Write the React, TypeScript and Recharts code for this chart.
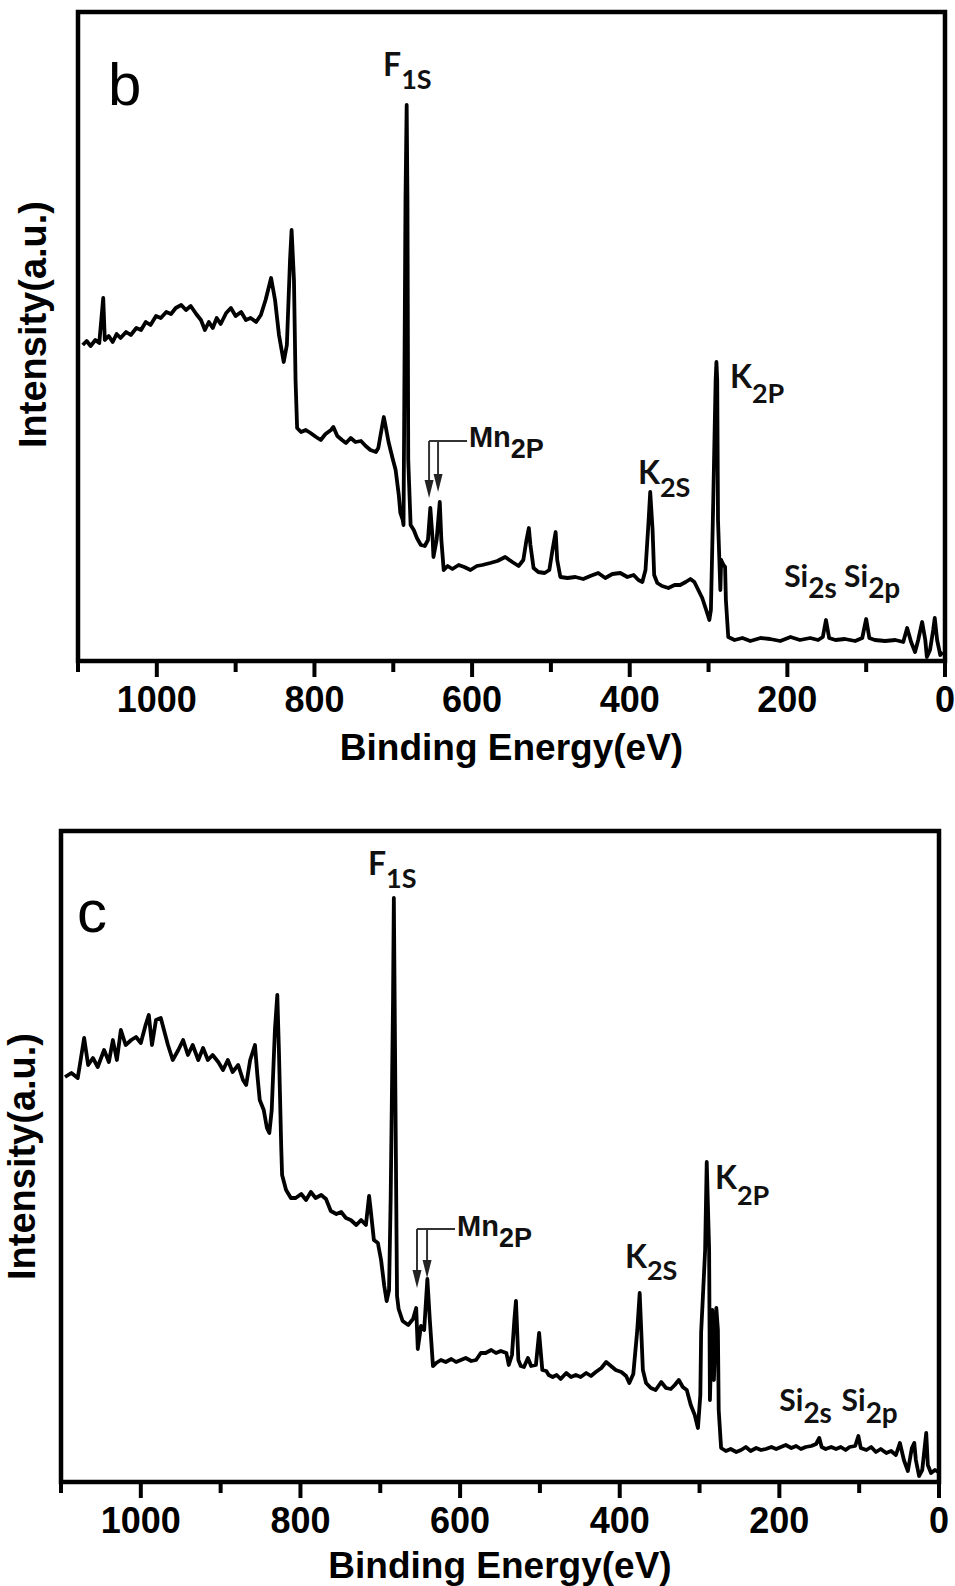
import React from 'react';
import { LineChart, Line, XAxis, YAxis, ReferenceArea, ReferenceDot, ReferenceLine, Label } from 'recharts';

// ---------- Panel b data (binding energy eV, intensity a.u.) ----------
const bEnergy = [
  1094, 1089, 1084, 1078, 1073, 1068, 1066, 1061, 1056, 1051,
  1046, 1039, 1033, 1026, 1020, 1014, 1008, 1001, 995, 988,
  982, 976, 969, 963, 957, 950, 944, 939, 934, 929,
  924, 919, 912, 906, 900, 893, 887, 881, 874, 868,
  862, 855, 850, 845, 839, 835, 831, 829, 826, 824,
  822, 817, 811, 805, 798, 792, 786, 779, 776, 771,
  765, 760, 754, 748, 741, 735, 729, 722, 719, 715,
  712, 710, 706, 701, 697, 693, 691, 688, 687, 686,
  684.5, 683, 682, 681, 678, 674, 670, 665, 660, 656,
  653, 650, 649, 645, 641, 639, 636, 631, 625, 617,
  610, 602, 594, 587, 577, 568, 558, 549, 541, 535,
  531, 528, 526, 522, 516, 508, 502, 498, 494, 492,
  488, 479, 469, 459, 450, 440, 431, 422, 412, 403,
  395, 389, 384, 380, 376, 374, 371, 369, 365, 359,
  351, 343, 336, 329, 323, 318, 313, 308, 303, 299,
  297, 294, 291, 290, 289, 288, 285, 284, 283, 281,
  279, 278, 275, 267, 257, 247, 234, 222, 209, 196,
  184, 171, 161, 155, 151, 147, 139, 127, 114, 105,
  100, 96, 89, 76, 63, 53, 48, 43, 38, 34,
  29, 25, 23, 19, 15, 13, 10, 6, 3,
];
const bIntensity = [
  316, 320, 315, 321, 318, 363, 321, 325, 319, 327,
  323, 329, 326, 333, 331, 339, 336, 345, 343, 349,
  347, 353, 356, 351, 355, 347, 341, 331, 339, 333,
  343, 337, 348, 353, 345, 349, 341, 343, 339, 346,
  361, 383, 361, 326, 299, 316, 401, 431, 381, 281,
  233, 229, 231, 228, 224, 221, 227, 231, 234, 225,
  221, 218, 223, 219, 220, 215, 211, 209, 213, 231,
  244, 236, 219, 203, 191, 166, 148, 141, 136, 261,
  461, 556, 461, 201, 136, 131, 123, 116, 115, 121,
  153, 121, 104, 121, 159, 121, 91, 95, 92, 96,
  94, 91, 95, 96, 98, 100, 104, 99, 95, 101,
  121, 133, 116, 93, 89, 88, 91, 111, 129, 101,
  84, 83, 84, 82, 85, 88, 83, 87, 88, 84,
  86, 81, 79, 91, 141, 169, 131, 86, 78, 75,
  73, 76, 76, 79, 82, 79, 71, 63, 51, 41,
  51, 161, 281, 299, 281, 141, 71, 101, 99, 96,
  94, 61, 24, 21, 23, 20, 23, 22, 20, 24,
  21, 23, 21, 24, 41, 23, 21, 22, 20, 23,
  42, 23, 21, 20, 21, 19, 33, 19, 9, 21,
  39, 21, 4, 11, 31, 43, 21, 6, 9,
];

// ---------- Panel c data ----------
const cEnergy = [
  1095, 1087, 1079, 1071, 1066, 1060, 1054, 1046, 1040, 1035,
  1030, 1025, 1019, 1012, 1006, 1000, 994, 990, 986, 981,
  975, 971, 966, 960, 953, 947, 941, 935, 928, 922,
  916, 910, 903, 897, 891, 885, 878, 872, 868, 863,
  857, 854, 851, 846, 842, 839, 836, 832, 829, 827,
  824, 823, 818, 812, 806, 799, 793, 787, 781, 774,
  768, 762, 755, 749, 743, 737, 730, 724, 718, 714,
  712, 708, 703, 699, 695, 692, 689, 687, 684, 683,
  682, 680, 679, 677, 672, 665, 659, 655, 653, 649,
  645, 641, 638, 634, 630, 624, 618, 611, 605, 599,
  593, 586, 580, 574, 568, 561, 555, 549, 542, 539,
  535, 532, 530, 527, 524, 520, 515, 511, 505, 501,
  497, 492, 489, 484, 479, 474, 467, 461, 455, 449,
  442, 436, 430, 423, 417, 411, 405, 398, 392, 388,
  383, 378, 375, 371, 367, 361, 355, 348, 342, 336,
  331, 326, 321, 316, 311, 306, 302, 299, 298, 296,
  293, 291, 288, 287, 284, 282, 279, 277, 276, 273,
  267, 261, 254, 248, 242, 236, 229, 223, 217, 210,
  204, 198, 192, 185, 179, 173, 167, 160, 154, 150,
  147, 142, 135, 129, 123, 117, 112, 105, 101, 98,
  91, 85, 79, 73, 66, 60, 54, 49, 44, 39,
  34, 31, 29, 25, 21, 16, 14, 10, 5, 1,
];
const cIntensity = [
  405, 409, 404, 444, 417, 424, 415, 432, 420, 442,
  422, 452, 437, 442, 445, 439, 457, 467, 437, 462,
  464, 452, 437, 422, 432, 442, 427, 437, 422, 434,
  422, 427, 420, 412, 422, 410, 417, 402, 397, 422,
  437, 407, 382, 372, 354, 349, 372, 452, 487, 432,
  332, 307, 292, 284, 284, 288, 282, 290, 284, 287,
  283, 271, 268, 270, 264, 262, 257, 262, 257, 286,
  272, 242, 239, 222, 196, 181, 192, 282, 482, 584,
  482, 282, 186, 173, 161, 157, 163, 174, 133, 156,
  152, 203, 163, 116, 119, 122, 120, 123, 120, 122,
  124, 121, 122, 129, 129, 132, 129, 131, 129, 117,
  127, 162, 181, 122, 116, 115, 124, 116, 117, 149,
  112, 111, 107, 105, 107, 103, 109, 105, 107, 105,
  109, 106, 110, 114, 120, 116, 112, 110, 106, 99,
  108, 152, 189, 112, 99, 94, 92, 100, 94, 93,
  97, 102, 95, 92, 77, 67, 54, 87, 150, 182,
  232, 320, 232, 82, 172, 102, 174, 152, 72, 34,
  31, 33, 30, 32, 35, 31, 34, 32, 33, 35,
  33, 35, 37, 34, 36, 33, 35, 36, 38, 44,
  35, 33, 35, 33, 35, 32, 35, 36, 46, 34,
  32, 35, 30, 33, 29, 31, 27, 39, 22, 11,
  34, 39, 22, 6, 12, 49, 17, 9, 12, 10,
];

// ---------- Axis ticks ----------
const xTicks = [1100, 1000, 900, 800, 700, 600, 500, 400, 300, 200, 100, 0];
const labeledTicks = [1000, 800, 600, 400, 200, 0];

const bData = bEnergy.map((e, k) => ({ e, i: bIntensity[k] }));
const cData = cEnergy.map((e, k) => ({ e, i: cIntensity[k] }));

const ARIAL = "'Liberation Sans', Arial, Helvetica, sans-serif";
const CALIBRI = "Lato, 'Open Sans', 'Liberation Sans', sans-serif";

const EnergyTick = (props: any) => {
  const { x, y, payload } = props;
  const v = payload.value;
  const major = labeledTicks.includes(v);
  return (
    <g>
      <line x1={x} x2={x} y1={y} y2={y + (major ? 16 : 11)} stroke="#000" strokeWidth={4} />
      {major && (
        <text x={x} y={y + 51} textAnchor="middle" fontFamily={ARIAL} fontWeight={700} fontSize={36} fill="#000">
          {v}
        </text>
      )}
    </g>
  );
};

type Anno = { e: number; v: number; main: string; sub: string; dy: number; font: string; size: number; subSize: number };

const annoShape = (a: Anno) => (p: any) => (
  <text x={p.cx} y={p.cy} fontFamily={a.font} fontWeight={700} fontSize={a.size} fill="#111">
    {a.main}
    <tspan dy={a.dy} fontSize={a.subSize}>{a.sub}</tspan>
  </text>
);

const letterShape = (t: string) => (p: any) => (
  <text x={p.cx} y={p.cy} fontFamily={ARIAL} fontWeight={400} fontSize={60} fill="#000">{t}</text>
);

const ArrowShape = (p: any) => {
  const { x1, y1, x2, y2 } = p;
  return (
    <g>
      <line x1={x1} y1={y1} x2={x2} y2={y2 - 12} stroke="#333" strokeWidth={2} />
      <polygon points={`${x2 - 4.5},${y2 - 18} ${x2 + 4.5},${y2 - 18} ${x2},${y2}`} fill="#222" />
    </g>
  );
};

const bAnnos: Anno[] = [
  { e: 713, v: 585, main: 'F', sub: '1S', dy: 13, font: CALIBRI, size: 32, subSize: 27 },
  { e: 389.5, v: 177, main: 'K', sub: '2S', dy: 13, font: CALIBRI, size: 32, subSize: 27 },
  { e: 272.8, v: 273, main: 'K', sub: '2P', dy: 15, font: CALIBRI, size: 32, subSize: 27 },
  { e: 604, v: 214, main: 'Mn', sub: '2P', dy: 11, font: ARIAL, size: 29, subSize: 27 },
  { e: 204, v: 74, main: 'Si', sub: '2s', dy: 11, font: CALIBRI, size: 30, subSize: 28 },
  { e: 128, v: 74, main: 'Si', sub: '2p', dy: 11, font: CALIBRI, size: 30, subSize: 28 },
];
const cAnnos: Anno[] = [
  { e: 715.4, v: 607, main: 'F', sub: '1S', dy: 13, font: CALIBRI, size: 32, subSize: 27 },
  { e: 393.4, v: 214, main: 'K', sub: '2S', dy: 12, font: CALIBRI, size: 32, subSize: 27 },
  { e: 280.6, v: 293, main: 'K', sub: '2P', dy: 16, font: CALIBRI, size: 32, subSize: 27 },
  { e: 603.8, v: 246, main: 'Mn', sub: '2P', dy: 11, font: ARIAL, size: 29, subSize: 27 },
  { e: 200, v: 71, main: 'Si', sub: '2s', dy: 12, font: CALIBRI, size: 30, subSize: 28 },
  { e: 122, v: 71, main: 'Si', sub: '2p', dy: 12, font: CALIBRI, size: 30, subSize: 28 },
];

type Bracket = { eA: number; eB: number; eEnd: number; v: number; tipA: number; tipB: number };
const bBracket: Bracket = { eA: 654.6, eB: 643.2, eEnd: 606.4, v: 220, tipA: 163, tipB: 169 };
const cBracket: Bracket = { eA: 654, eB: 641.4, eEnd: 606.4, v: 253, tipA: 194, tipB: 204 };

type PanelProps = {
  data: { e: number; i: number }[];
  height: number;
  yMax: number;
  margin: { top: number; right: number; left: number; bottom: number };
  yAxisWidth: number;
  xAxisHeight: number;
  xTitleOffset: number;
  yTitleDx: number;
  yTitleDy: number;
  letter: string;
  letterPos: { e: number; v: number };
  annos: Anno[];
  bracket: Bracket;
};

const Panel = (p: PanelProps) => (
  <LineChart width={955} height={p.height} data={p.data} margin={p.margin}>
    <XAxis
      dataKey="e"
      type="number"
      domain={[0, 1100]}
      reversed
      ticks={xTicks}
      interval={0}
      allowDataOverflow
      axisLine={false}
      tickLine={false}
      tickSize={0}
      tickMargin={0}
      height={p.xAxisHeight}
      tick={<EnergyTick />}
    >
      <Label
        value="Binding Energy(eV)"
        position="insideBottom"
        offset={p.xTitleOffset}
        fontFamily={ARIAL}
        fontWeight={700}
        fontSize={37}
        fill="#000"
      />
    </XAxis>
    <YAxis
      type="number"
      domain={[0, p.yMax]}
      allowDataOverflow
      width={p.yAxisWidth}
      tick={false}
      tickLine={false}
      axisLine={false}
    >
      <Label
        value="Intensity(a.u.)"
        angle={-90}
        position="center"
        dx={p.yTitleDx}
        dy={p.yTitleDy}
        fontFamily={ARIAL}
        fontWeight={700}
        fontSize={38}
        fill="#000"
      />
    </YAxis>
    <ReferenceArea x1={1100} x2={0} y1={0} y2={p.yMax} fill="none" fillOpacity={0} stroke="#000" strokeWidth={4.5} />
    <Line
      type="linear"
      dataKey="i"
      stroke="#000"
      strokeWidth={3.8}
      strokeLinejoin="round"
      dot={false}
      activeDot={false}
      isAnimationActive={false}
    />
    <ReferenceLine
      segment={[{ x: p.bracket.eA, y: p.bracket.v }, { x: p.bracket.eEnd, y: p.bracket.v }]}
      stroke="#333"
      strokeWidth={2}
    />
    <ReferenceLine
      segment={[{ x: p.bracket.eA, y: p.bracket.v }, { x: p.bracket.eA, y: p.bracket.tipA }]}
      shape={ArrowShape}
    />
    <ReferenceLine
      segment={[{ x: p.bracket.eB, y: p.bracket.v }, { x: p.bracket.eB, y: p.bracket.tipB }]}
      shape={ArrowShape}
    />
    {p.annos.map((a, k) => (
      <ReferenceDot key={k} x={a.e} y={a.v} r={1} shape={annoShape(a)} />
    ))}
    <ReferenceDot x={p.letterPos.e} y={p.letterPos.v} r={1} shape={letterShape(p.letter)} />
  </LineChart>
);

export default function App() {
  return (
    <div style={{ position: 'absolute', left: 0, top: 0, width: 955, height: 1586, background: '#fff' }}>
      <div style={{ position: 'absolute', left: 0, top: 0 }}>
        <Panel
          data={bData}
          height={800}
          yMax={649}
          margin={{ top: 12, right: 10, left: 0, bottom: 0 }}
          yAxisWidth={78}
          xAxisHeight={139}
          xTitleOffset={40}
          yTitleDx={-6}
          yTitleDy={-12}
          letter="b"
          letterPos={{ e: 1062, v: 556 }}
          annos={bAnnos}
          bracket={bBracket}
        />
      </div>
      <div style={{ position: 'absolute', left: 0, top: 790 }}>
        <Panel
          data={cData}
          height={796}
          yMax={651}
          margin={{ top: 41, right: 16, left: 0, bottom: 0 }}
          yAxisWidth={61}
          xAxisHeight={104}
          xTitleOffset={8}
          yTitleDx={-9}
          yTitleDy={0}
          letter="c"
          letterPos={{ e: 1080, v: 550 }}
          annos={cAnnos}
          bracket={cBracket}
        />
      </div>
    </div>
  );
}
